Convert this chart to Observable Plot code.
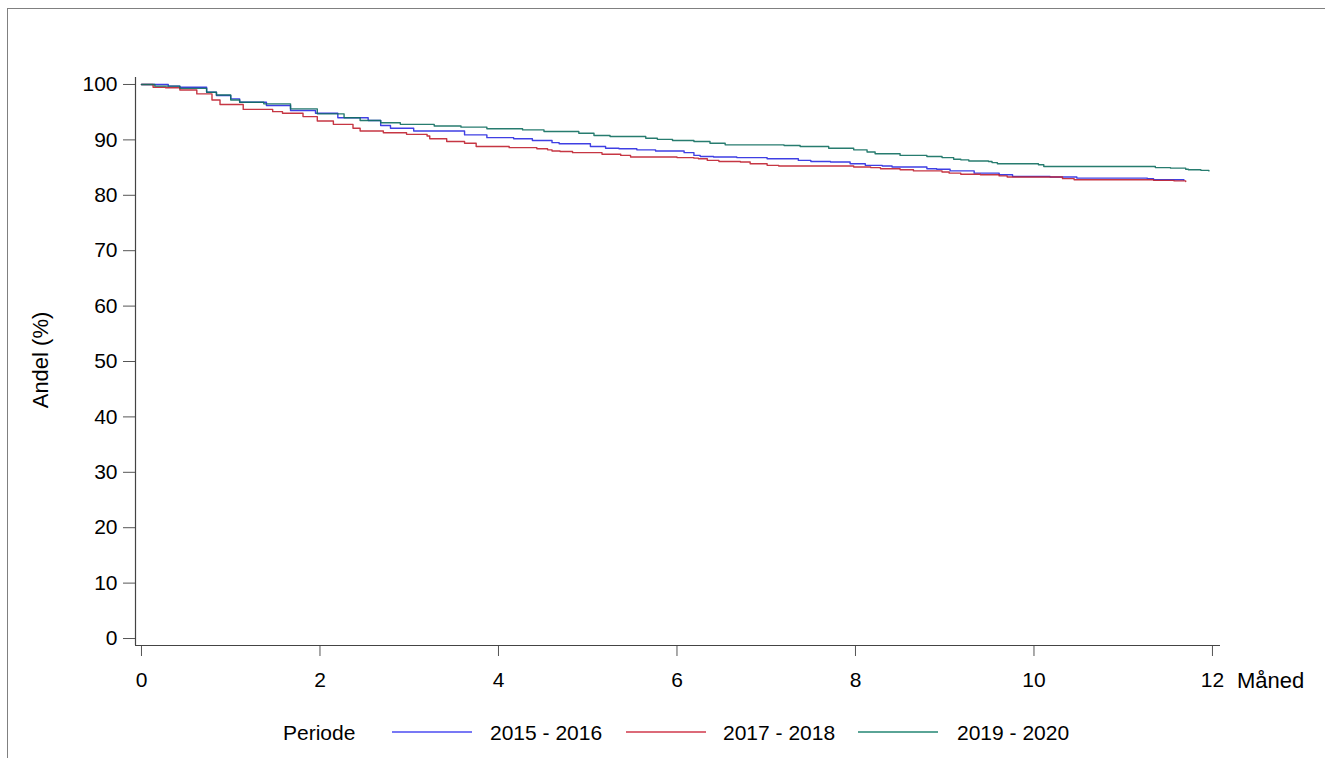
<!DOCTYPE html>
<html>
<head>
<meta charset="utf-8">
<script src="https://cdn.jsdelivr.net/npm/d3@7"></script>
<script src="https://cdn.jsdelivr.net/npm/@observablehq/plot@0.6"></script>
<style>
  html, body { margin: 0; padding: 0; background: #fff; overflow: hidden; }
  body { width: 1325px; height: 758px; position: relative; font-family: "Liberation Sans", Arial, sans-serif; color: #000; }
  #frame { position: absolute; left: 7px; top: 8px; width: 1400px; height: 800px; border: 1px solid #808080; box-sizing: border-box; }
  #chart { position: absolute; left: 0; top: 0; }
  .lbl { position: absolute; font-size: 21px; white-space: nowrap; line-height: 1; }
  #ylab { left: 41px; top: 360px; transform: translate(-50%, -50%) rotate(-90deg); font-size: 22px; }
  #xlab { left: 1237px; top: 670px; font-size: 22px; }
  .leg { position: absolute; top: 722px; font-size: 21px; line-height: 1; white-space: nowrap; }
  .legline { position: absolute; top: 731px; height: 2px; }
</style>
</head>
<body>
<div id="frame"></div>
<div id="chart"></div>
<div id="ylab" class="lbl">Andel (%)</div>
<div id="xlab" class="lbl">Måned</div>
<div id="legend"></div>
<script>
// ---- data ----
const periods = ["2015 - 2016", "2017 - 2018", "2019 - 2020"];
const lineColors = ["#2a2ae0", "#c0202f", "#0f6e5f"];
const legendColors = ["#7878f5", "#dc6a78", "#5aa496"];
const xTicks = [0, 2, 4, 6, 8, 10, 12];
const yTicks = [0, 10, 20, 30, 40, 50, 60, 70, 80, 90, 100];

const months1516 = [0, 0.3, 0.43, 0.73, 0.84, 1.0, 1.1, 1.4, 1.67, 1.95, 2.2, 2.54, 2.68, 2.79, 3.05, 3.62, 3.87, 4.17, 4.38, 4.6, 4.68, 5.03, 5.2, 5.35, 5.55, 5.76, 6.08, 6.19, 6.26, 6.41, 6.67, 7.01, 7.36, 7.5, 7.72, 7.94, 8.11, 8.3, 8.41, 8.8, 8.91, 9.06, 9.33, 9.61, 9.76, 10.18, 10.48, 11.27, 11.34, 11.68];
const surv1516   = [100, 99.7, 99.5, 98.6, 98.0, 97.4, 96.8, 96.2, 95.3, 94.8, 94.0, 93.5, 92.6, 92.1, 91.6, 90.9, 90.4, 90.2, 89.9, 89.5, 89.3, 88.8, 88.5, 88.4, 88.2, 88.0, 87.7, 87.2, 87.0, 86.9, 86.8, 86.6, 86.3, 86.1, 86.0, 85.7, 85.4, 85.3, 85.1, 84.8, 84.7, 84.4, 84.0, 83.7, 83.4, 83.3, 83.1, 83.0, 82.8, 82.7];

const months1718 = [0, 0.13, 0.27, 0.43, 0.62, 0.79, 0.88, 1.14, 1.47, 1.58, 1.81, 1.97, 2.15, 2.37, 2.45, 2.71, 2.97, 3.2, 3.23, 3.42, 3.62, 3.75, 4.12, 4.43, 4.55, 4.6, 4.69, 4.83, 5.16, 5.37, 5.48, 6.0, 6.19, 6.24, 6.34, 6.47, 6.71, 6.82, 7.01, 7.14, 7.98, 8.17, 8.28, 8.5, 8.65, 8.97, 9.05, 9.18, 9.4, 9.61, 9.7, 10.32, 10.45, 11.34, 11.57, 11.7];
const surv1718   = [100, 99.5, 99.4, 99.0, 98.3, 97.2, 96.4, 95.5, 95.1, 94.8, 94.2, 93.4, 92.8, 92.1, 91.6, 91.3, 91.0, 90.7, 90.2, 89.7, 89.4, 88.8, 88.6, 88.4, 88.2, 88.0, 87.9, 87.7, 87.4, 87.2, 86.9, 86.8, 86.7, 86.6, 86.3, 86.1, 86.0, 85.7, 85.4, 85.3, 85.1, 85.0, 84.8, 84.6, 84.4, 84.2, 84.0, 83.8, 83.7, 83.5, 83.3, 83.0, 82.8, 82.7, 82.6, 82.5];

const months1920 = [0, 0.15, 0.43, 0.73, 0.84, 1.0, 1.1, 1.37, 1.67, 1.97, 2.27, 2.45, 2.68, 2.9, 3.28, 3.58, 3.87, 4.27, 4.51, 4.9, 5.07, 5.25, 5.65, 5.78, 5.95, 6.19, 6.37, 6.54, 7.2, 7.38, 7.7, 7.98, 8.13, 8.22, 8.5, 8.8, 8.97, 9.1, 9.18, 9.27, 9.49, 9.53, 9.59, 10.05, 10.11, 11.36, 11.53, 11.7, 11.73, 11.87, 11.96];
const surv1920   = [100, 99.7, 99.3, 98.6, 98.1, 97.2, 96.8, 96.5, 95.6, 94.7, 94.0, 93.5, 93.1, 92.8, 92.5, 92.3, 92.0, 91.8, 91.5, 91.2, 90.8, 90.6, 90.3, 90.1, 89.9, 89.7, 89.4, 89.1, 89.0, 88.8, 88.5, 88.2, 87.8, 87.5, 87.2, 87.0, 86.8, 86.5, 86.4, 86.2, 86.1, 85.9, 85.7, 85.5, 85.2, 85.0, 84.9, 84.7, 84.6, 84.5, 84.4];

// ---- build table ----
const seriesMonths = [months1516, months1718, months1920];
const seriesSurv = [surv1516, surv1718, surv1920];
const rows = [];
periods.forEach((p, i) => {
  seriesMonths[i].forEach((m, j) => rows.push({periode: p, month: m, surv: seriesSurv[i][j]}));
});

const xDomain = [-0.067, 12.09];
const yDomain = [-1.26, 101.26];
const W = 1325, H = 700;

const chart = Plot.plot({
  width: W,
  height: H,
  marginLeft: 135,
  marginRight: 105,
  marginTop: 77,
  marginBottom: 55,
  style: {fontFamily: '"Liberation Sans", Arial, sans-serif', fontSize: "21px", color: "#000", background: "transparent", overflow: "visible"},
  x: {domain: xDomain},
  y: {domain: yDomain},
  color: {domain: periods, range: lineColors},
  marks: [
    Plot.axisY({ticks: yTicks, tickSize: 12, tickPadding: 6, label: null, fontSize: 21, stroke: "#555", fill: "#000"}),
    Plot.axisX({ticks: xTicks, tickSize: 11, tickPadding: 16, label: null, fontSize: 21, stroke: "#555", fill: "#000"}),
    Plot.ruleX([xDomain[0]], {y1: yDomain[0], y2: yDomain[1], stroke: "#444", strokeWidth: 1.2}),
    Plot.ruleY([yDomain[0]], {x1: xDomain[0], x2: xDomain[1], stroke: "#444", strokeWidth: 1.2}),
    Plot.line(rows, {x: "month", y: "surv", z: "periode", stroke: "periode", curve: "step-after", strokeWidth: 1.4, strokeOpacity: 0.9})
  ]
});
document.getElementById("chart").appendChild(chart);

// ---- legend ----
const legend = document.getElementById("legend");
const title = document.createElement("div");
title.className = "leg";
title.style.left = "283px";
title.textContent = "Periode";
legend.appendChild(title);
const lineLefts = [392, 626, 858];
const textLefts = [490, 723, 957];
periods.forEach((p, i) => {
  const ln = document.createElement("div");
  ln.className = "legline";
  ln.style.left = lineLefts[i] + "px";
  ln.style.width = "80px";
  ln.style.background = legendColors[i];
  legend.appendChild(ln);
  const t = document.createElement("div");
  t.className = "leg";
  t.style.left = textLefts[i] + "px";
  t.textContent = p;
  legend.appendChild(t);
});
</script>
</body>
</html>
